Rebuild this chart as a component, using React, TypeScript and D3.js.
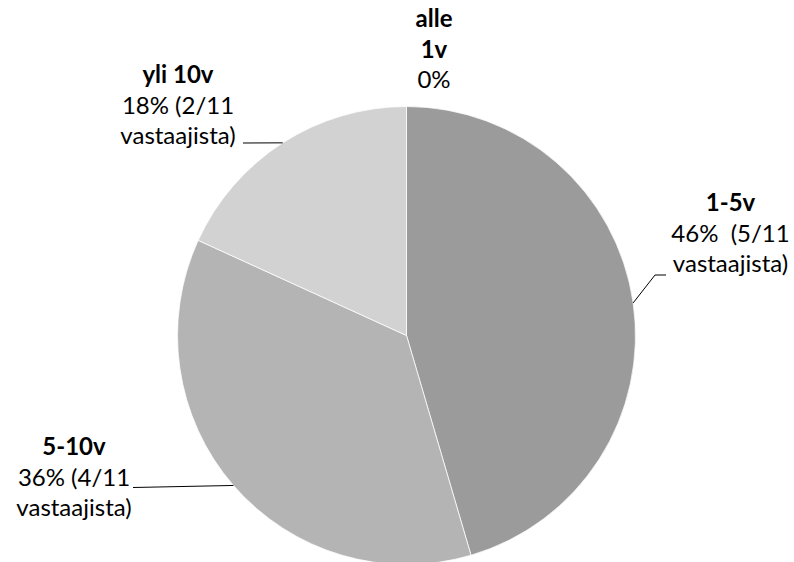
import * as React from 'react'
import * as d3 from 'd3'

// answers per group (11 respondents)
const categories = ['alle 1v', '1-5v', '5-10v', 'yli 10v']
const counts = [0, 5, 4, 2]
const percents = ['0%', '46%  (5/11', '36% (4/11', '18% (2/11']
const colors = ['#9b9b9b', '#9b9b9b', '#b4b4b4', '#d2d2d2']

const W = 794
const H = 562
const cx = 406.5
const cy = 335.5
const R = 229
const lineH = 30.5

// label blocks: title lines (bold), then plain lines; x is centre, y first baseline
const labelLayout = [
  { x: 434, y: 27, title: ['alle', '1v'], rest: (i: number) => [percents[i]], leader: null },
  { x: 730.5, y: 211, title: ['1-5v'], rest: (i: number) => [percents[i], 'vastaajista)'], leader: [[666, 275], [655, 275]] },
  { x: 74, y: 455, title: ['5-10v'], rest: (i: number) => [percents[i], 'vastaajista)'], leader: [[133, 487.5]] },
  { x: 178, y: 83, title: ['yli 10v'], rest: (i: number) => [percents[i], 'vastaajista)'], leader: [[243, 143]] },
]

export default function App() {
  const pie = d3
    .pie<number>()
    .sort(null)
    .value((d) => d)
  const arcs = pie(counts)
  const arc = d3.arc<d3.PieArcDatum<number>>().innerRadius(0).outerRadius(R)

  const edgePoint = (a: d3.PieArcDatum<number>) => {
    const m = (a.startAngle + a.endAngle) / 2
    return [cx + R * Math.sin(m), cy - R * Math.cos(m)]
  }

  return (
    <svg
      width={W}
      height={H}
      style={{ position: 'absolute', left: 0, top: 0, background: '#fff' }}
      fontFamily="Lato, 'Open Sans', sans-serif"
    >
      <g transform={`translate(${cx},${cy})`}>
        {arcs.map((a, i) =>
          a.value > 0 ? (
            <path key={i} d={arc(a) || ''} fill={colors[i]} stroke="#fff" strokeWidth={0.75} />
          ) : null
        )}
      </g>
      {arcs.map((a, i) => {
        const lay = labelLayout[i]
        if (!lay.leader || a.value === 0) return null
        const pts = [...lay.leader, edgePoint(a)]
        return (
          <path
            key={'l' + i}
            d={d3.line()(pts as [number, number][]) || ''}
            fill="none"
            stroke="#000"
            strokeWidth={1}
          />
        )
      })}
      {categories.map((c, i) => {
        const lay = labelLayout[i]
        const lines = [
          ...lay.title.map((t) => ({ t, bold: true })),
          ...lay.rest(i).map((t) => ({ t, bold: false })),
        ]
        return (
          <text key={c} textAnchor="middle" fontSize={24} fill="#000" style={{ whiteSpace: 'pre' }}>
            {lines.map((l, k) => (
              <tspan key={k} x={lay.x} y={lay.y + k * lineH} fontWeight={l.bold ? 'bold' : 'normal'}>
                {l.t}
              </tspan>
            ))}
          </text>
        )
      })}
    </svg>
  )
}
